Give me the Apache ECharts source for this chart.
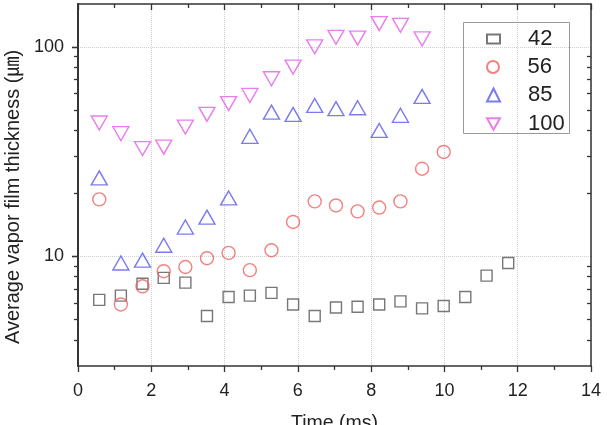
<!DOCTYPE html>
<html>
<head>
<meta charset="utf-8">
<script src="https://cdn.jsdelivr.net/npm/echarts@6/dist/echarts.min.js"></script>
<style>
  html, body { margin: 0; padding: 0; background: #fff; }
  #chart { width: 607px; height: 425px; }
</style>
</head>
<body>
<div id="chart"></div>
<script>
const FONT = "'Liberation Sans', Arial, 'Noto Sans CJK JP', sans-serif"

// values
const t42 = [0.58, 1.17, 1.76, 2.34, 2.93, 3.52, 4.11, 4.69, 5.28, 5.87, 6.46, 7.04, 7.63, 8.22, 8.80, 9.39, 9.98, 10.57, 11.15, 11.74]
const v42 = [6.2, 6.5, 7.4, 7.9, 7.5, 5.2, 6.4, 6.5, 6.7, 5.9, 5.2, 5.7, 5.75, 5.9, 6.1, 5.65, 5.8, 6.4, 8.1, 9.3]
const t56 = [0.58, 1.17, 1.76, 2.34, 2.93, 3.52, 4.11, 4.69, 5.28, 5.87, 6.46, 7.04, 7.63, 8.22, 8.80, 9.39, 9.98]
const v56 = [18.7, 5.9, 7.2, 8.5, 8.9, 9.8, 10.4, 8.6, 10.7, 14.6, 18.3, 17.5, 16.4, 17.1, 18.3, 26.2, 31.5]
const t85 = [0.58, 1.17, 1.76, 2.34, 2.93, 3.52, 4.11, 4.69, 5.28, 5.87, 6.46, 7.04, 7.63, 8.22, 8.80, 9.39]
const v85 = [23.7, 9.3, 9.6, 11.3, 13.8, 15.4, 19.0, 37.4, 48.8, 47.6, 52.5, 50.7, 51.2, 39.9, 47.1, 58.0]
const t100 = [0.58, 1.17, 1.76, 2.34, 2.93, 3.52, 4.11, 4.69, 5.28, 5.87, 6.46, 7.04, 7.63, 8.22, 8.80, 9.39]
const v100 = [43.3, 38.5, 32.7, 33.2, 41.4, 47.6, 53.6, 58.6, 70.4, 80.0, 100, 111, 110, 129, 126.6, 109]

const names = ['42', '56', '85', '100']
const yMajor = [10, 100]
const yMinor = [4, 5, 6, 7, 8, 9, 20, 30, 40, 50, 60, 70, 80, 90]

const zip = (xs, ys) => xs.map((x, i) => [x, ys[i]])

const axisCol = '#333'
const rect = { left: 78, top: 4, width: 513, height: 362, outerBoundsMode: 'none', containLabel: false }

function yAxisBase(grid, pos) {
  return {
    type: 'log', logBase: 10, gridIndex: grid, position: pos,
    min: 3, max: 160,
    axisLine: { show: true, lineStyle: { color: axisCol, width: 1.5 } },
    axisLabel: { show: false },
    splitLine: { show: false },
  }
}

const legendIcons = ['rect', 'circle', 'triangle', 'path://M0,0L16,0L8,14Z']

const option = {
  animation: false,
  textStyle: { fontFamily: FONT },
  grid: [
    Object.assign({}, rect),
    Object.assign({}, rect),
  ],
  graphic: [{
    type: 'rect',
    shape: { x: 463.5, y: 22.5, width: 106, height: 111 },
    style: { fill: 'none', stroke: '#999', lineWidth: 1 },
    z: 1,
  }],
  legend: names.map((n, i) => ({
    data: [{ name: n, icon: legendIcons[i] }],
    left: 486,
    top: [28, 56, 84, 113][i],
    padding: 0,
    itemWidth: 13,
    itemHeight: [9, 12, 13, 13][i],
    selectedMode: false,
    textStyle: { fontSize: 22, color: '#222', fontFamily: FONT, padding: [0, 0, 0, 23] },
  })),
  xAxis: [
    {
      type: 'value', gridIndex: 0, position: 'bottom',
      min: 0, max: 14, interval: 2,
      name: 'Time (ms)', nameLocation: 'middle', nameGap: 48,
      nameTextStyle: { fontSize: 19.5, color: '#222' },
      axisLine: { lineStyle: { color: axisCol, width: 1.5 } },
      axisTick: { inside: false, length: 6, lineStyle: { color: axisCol, width: 1.3 } },
      minorTick: { show: true, splitNumber: 2, length: 4, lineStyle: { color: axisCol, width: 1.3 } },
      axisLabel: { fontSize: 18, color: '#222', margin: 16 },
      splitLine: { show: true, lineStyle: { color: '#cfcfcf', type: 'dotted', width: 1 } },
    },
    {
      type: 'value', gridIndex: 0, position: 'top',
      min: 0, max: 14, interval: 2,
      axisLine: { lineStyle: { color: axisCol, width: 1.5 } },
      axisTick: { inside: true, length: 6, lineStyle: { color: axisCol, width: 1.3 } },
      minorTick: { show: true, splitNumber: 2, length: 4, lineStyle: { color: axisCol, width: 1.3 } },
      axisLabel: { show: false },
      splitLine: { show: false },
    },
    { type: 'value', gridIndex: 1, min: 0, max: 14, show: false },
  ],
  yAxis: [
    Object.assign(yAxisBase(0, 'left'), {
      name: 'Average vapor film thickness (㎛)', nameLocation: 'middle', nameGap: 40,
      nameTextStyle: { fontSize: 20, color: '#222', padding: [0, 24, 0, 0] },
      axisTick: { customValues: yMajor, inside: false, length: 6, lineStyle: { color: axisCol, width: 1.3 } },
      axisLabel: { show: true, customValues: yMajor, fontSize: 18, color: '#222', margin: 14 },
      splitLine: { show: true, lineStyle: { color: '#cfcfcf', type: 'dotted', width: 1 } },
    }),
    Object.assign(yAxisBase(0, 'right'), {
      axisTick: { customValues: yMajor, inside: true, length: 6, lineStyle: { color: axisCol, width: 1.3 } },
    }),
    Object.assign(yAxisBase(1, 'left'), {
      axisTick: { customValues: yMinor, inside: false, length: 4, lineStyle: { color: axisCol, width: 1.3 } },
    }),
    Object.assign(yAxisBase(1, 'right'), {
      axisTick: { customValues: yMinor, inside: true, length: 4, lineStyle: { color: axisCol, width: 1.3 } },
    }),
  ],
  series: [
    {
      name: names[0], type: 'scatter', xAxisIndex: 0, yAxisIndex: 0,
      data: zip(t42, v42),
      symbol: 'rect', symbolSize: 11,
      itemStyle: { color: 'rgba(0,0,0,0)', borderColor: '#555', borderWidth: 1.4 },
    },
    {
      name: names[1], type: 'scatter', xAxisIndex: 0, yAxisIndex: 0,
      data: zip(t56, v56),
      symbol: 'circle', symbolSize: 13,
      itemStyle: { color: 'rgba(0,0,0,0)', borderColor: '#f06262', borderWidth: 1.4 },
    },
    {
      name: names[2], type: 'scatter', xAxisIndex: 0, yAxisIndex: 0,
      data: zip(t85, v85),
      symbol: 'triangle', symbolSize: [16, 14],
      itemStyle: { color: 'rgba(0,0,0,0)', borderColor: '#5a5ae8', borderWidth: 1.4 },
    },
    {
      name: names[3], type: 'scatter', xAxisIndex: 0, yAxisIndex: 0,
      data: zip(t100, v100),
      symbol: 'triangle', symbolRotate: 180, symbolSize: [16, 14],
      itemStyle: { color: 'rgba(0,0,0,0)', borderColor: '#e35ce8', borderWidth: 1.4 },
    },
  ]
}

const myChart = echarts.init(document.getElementById('chart'), null, { renderer: 'canvas' })
myChart.setOption(option)
</script>
</body>
</html>
